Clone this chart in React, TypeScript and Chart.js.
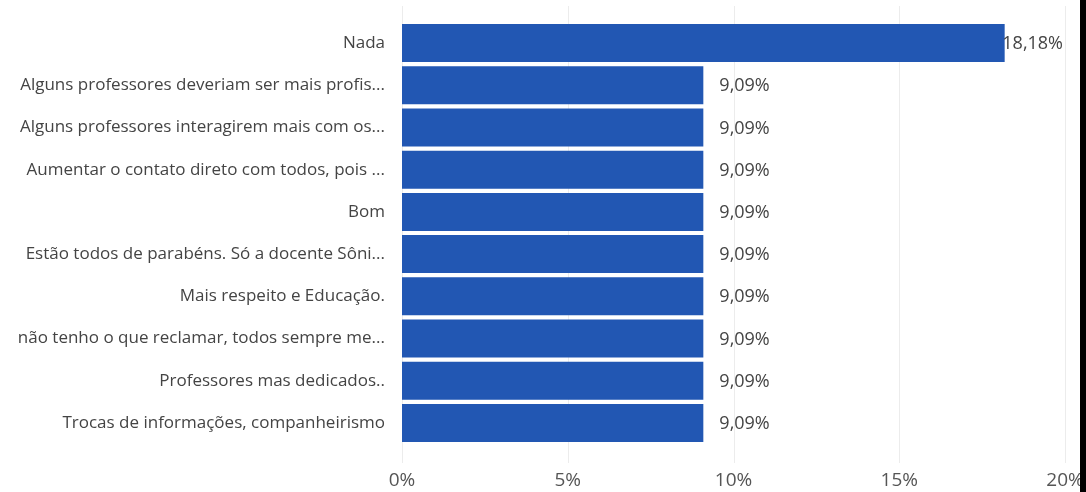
import React, { useEffect, useRef } from "react";
import { Chart, registerables } from "chart.js";

Chart.register(...registerables);

const categories: string[] = [
  "Nada",
  "Alguns professores deveriam ser mais profis...",
  "Alguns professores interagirem mais com os...",
  "Aumentar o contato direto com todos, pois ...",
  "Bom",
  "Estão todos de parabéns. Só a docente Sôni...",
  "Mais respeito e Educação.",
  "não tenho o que reclamar, todos sempre me...",
  "Professores mas dedicados..",
  "Trocas de informações, companheirismo",
];

const percentages: number[] = [18.18, 9.09, 9.09, 9.09, 9.09, 9.09, 9.09, 9.09, 9.09, 9.09];

const xTicks: number[] = [0, 5, 10, 15, 20];

const BAR_COLOR = "#2257b3";
const FONT = "'Open Sans', 'Noto Sans', sans-serif";

const fmt = (v: number) => v.toFixed(2).replace(".", ",") + "%";

const extrasPlugin = {
  id: "extras",
  beforeDatasetsDraw(chart: any) {
    const { ctx, chartArea, scales } = chart;
    const x = scales.x;
    ctx.save();
    ctx.strokeStyle = "#ececec";
    ctx.lineWidth = 1;
    xTicks.forEach((t) => {
      const px = Math.round(x.getPixelForValue(t)) + 0.5;
      ctx.beginPath();
      ctx.moveTo(px, chartArea.top - 16);
      ctx.lineTo(px, chartArea.bottom + 19);
      ctx.stroke();
    });
    ctx.restore();
  },
  afterDatasetsDraw(chart: any) {
    const { ctx, chartArea } = chart;
    const meta = chart.getDatasetMeta(0);
    ctx.save();
    ctx.font = `18px ${FONT}`;
    ctx.fillStyle = "#444";
    ctx.textBaseline = "middle";
    ctx.textAlign = "left";
    meta.data.forEach((bar: any, i: number) => {
      const text = fmt(percentages[i]);
      const w = ctx.measureText(text).width;
      let tx = bar.x + 16;
      const limit = chartArea.right - 2;
      if (tx + w > limit) tx = limit - w;
      ctx.fillText(text, tx, bar.y + 1);
    });
    ctx.restore();
  },
};

export default function App() {
  const ref = useRef<HTMLCanvasElement | null>(null);

  useEffect(() => {
    document.body.style.margin = "0";
    const canvas = ref.current;
    if (!canvas) return;
    const chart = new Chart(canvas, {
      type: "bar",
      data: {
        labels: categories,
        datasets: [
          {
            data: percentages,
            backgroundColor: BAR_COLOR,
            borderWidth: 0,
            barPercentage: 0.9,
            categoryPercentage: 1.0,
          },
        ],
      },
      options: {
        indexAxis: "y",
        animation: false,
        responsive: false,
        maintainAspectRatio: false,
        layout: { padding: { top: 22, right: 15, left: 0, bottom: 0 } },
        plugins: {
          legend: { display: false },
          tooltip: { enabled: false },
        },
        scales: {
          x: {
            min: 0,
            max: 20,
            ticks: {
              stepSize: 5,
              callback: (v: any) => v + "%",
              font: { family: FONT, size: 19 },
              color: "#555",
              padding: 17,
            },
            grid: { display: false },
            border: { display: false },
            afterFit: (scale: any) => {
              scale.height = 48;
              scale.paddingLeft = 0;
              scale.paddingRight = 0;
            },
          },
          y: {
            ticks: {
              font: { family: FONT, size: 17 },
              color: "#444",
              padding: 9,
              autoSkip: false,
            },
            grid: { display: false },
            border: { display: false },
            afterFit: (scale: any) => {
              scale.width = 402;
              scale.paddingTop = 0;
              scale.paddingBottom = 0;
            },
          },
        },
      },
      plugins: [extrasPlugin],
    });
    return () => chart.destroy();
  }, []);

  return (
    <div style={{ width: 1086, height: 492, background: "#000", position: "relative" }}>
      <canvas ref={ref} width={1080} height={492} style={{ display: "block", width: 1080, height: 492, background: "#fff" }} />
    </div>
  );
}
